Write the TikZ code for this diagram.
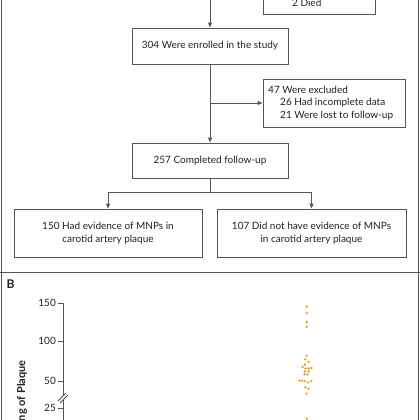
\documentclass[tikz,border=0pt]{standalone}
\usepackage{fontspec}
\setmainfont{Lato}
\usetikzlibrary{arrows.meta}
\definecolor{ln}{HTML}{555555}
\definecolor{tx}{HTML}{222222}
\definecolor{dot}{HTML}{E3A236}
\tikzset{
  flowbox/.style={draw=ln, line width=0.9pt, fill=white, inner sep=0pt, text=tx},
  conn/.style={draw=ln, line width=0.9pt},
  arr/.style={conn, -{Triangle[length=5pt,width=4pt]}},
  lbl/.style={text=tx, font=\fontsize{10}{13.5}\selectfont, inner sep=0pt},
  tick/.style={draw=ln, line width=0.8pt},
  pt/.style={fill=dot, draw=none},
}
\begin{document}
\begin{tikzpicture}[x=1pt,y=-1pt]
\useasboundingbox (0,0) rectangle (420,420);
\fill[white] (0,0) rectangle (420,420);
% frame
\draw[conn] (1,-5) -- (1,425);
\draw[conn] (418.5,-5) -- (418.5,425);
\draw[conn] (0,272) -- (420,272);
% top box (partially visible)
\draw[flowbox] (263,-30) rectangle (375,14);
\node[lbl, anchor=west] (died) at (292,3) {2 Died};
\coordinate (topin) at (210,-5);
% enrolled
\node[flowbox, minimum width=156pt, minimum height=36pt, lbl] (enr) at (210,46) {304 Were enrolled in the study};
\draw[arr] (topin) -- (enr.north);
% excluded
\node[flowbox, minimum width=142pt, minimum height=48pt] (exc) at (334,103) {};
\node[lbl, anchor=west] (e1) at (268,90) {47 Were excluded};
\node[lbl, anchor=west] (e2) at (280,103) {26 Had incomplete data};
\node[lbl, anchor=west] (e3) at (280,116) {21 Were lost to follow-up};
% completed
\node[flowbox, minimum width=156pt, minimum height=35pt, lbl] (comp) at (210,160.5) {257 Completed follow-up};
\draw[arr] (enr.south) -- (comp.north);
\coordinate (br) at (210,103);
\draw[arr] (br) -- (exc.west);
% bottom boxes
\node[flowbox, minimum width=188pt, minimum height=48pt, lbl, align=center] (had) at (108,233) {150 Had evidence of MNPs in\\carotid artery plaque};
\node[flowbox, minimum width=189pt, minimum height=48pt, lbl, align=center] (not) at (311.5,233) {107 Did not have evidence of MNPs\\in carotid artery plaque};
\coordinate (sp) at (210,192);
\draw[conn] (comp.south) -- (sp);
\draw[arr] (sp) -| (had.north);
\draw[arr] (sp) -| (not.north);
% panel B
\node[anchor=west, inner sep=0pt, text=tx, font=\fontsize{12}{14}\selectfont\bfseries] (B) at (6.5,284) {B};
\draw[conn] (63,303) -- (63,396);
\draw[conn] (63,400) -- (63,425);
\draw[tick] (58,303) -- (63,303);
\draw[tick] (58,341) -- (63,341);
\draw[tick] (58,381) -- (63,381);
\draw[tick] (58,408) -- (63,408);
\node[lbl, anchor=east] (t150) at (56,303) {150};
\node[lbl, anchor=east] (t100) at (56,341) {100};
\node[lbl, anchor=east] (t50) at (56,381) {50};
\node[lbl, anchor=east] (t25) at (56,408) {25};
\draw[tick] (58,401) -- (66,393);
\draw[tick] (60,403) -- (68,395);
\node[inner sep=0pt, text=tx, font=\fontsize{11}{13}\selectfont\bfseries, rotate=90, anchor=east] (ylab) at (22,360) {ng of Plaque};
% dots
\foreach \px/\py in {306.7/306.5, 306.7/313, 306.7/322, 306.7/327, 306.7/355.7, 305.3/359.3, 308.5/361.8, 305/364.5, 302.5/367, 305.5/368.5, 308.7/368.5, 311.5/368, 305/371.5, 308.7/371.3, 304.5/374.2, 307.5/374.5, 299.3/380.5, 302/380.8, 304.7/381, 308/382.3, 311.3/380.8, 305.3/387.3, 308.5/388.8, 306.7/393.7, 306.7/418.5}
  \fill[pt] (\px,\py) circle (1.3pt);
\end{tikzpicture}
\end{document}
